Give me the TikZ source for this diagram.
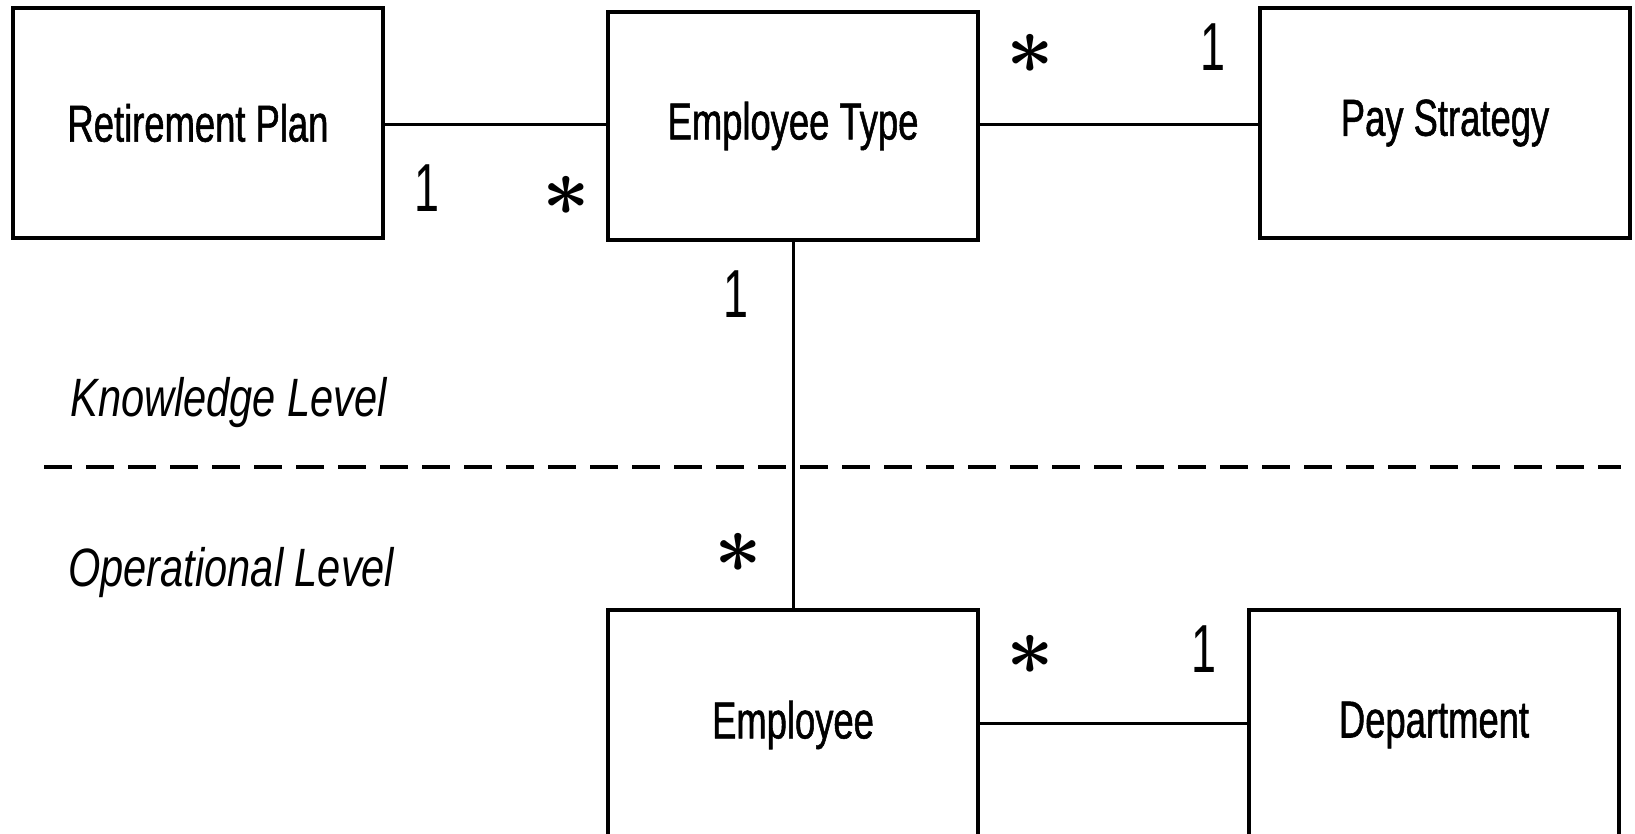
\documentclass[tikz,border=0pt]{standalone}
\usepackage{graphicx}
\usepackage{fontspec}
\newfontfamily\boxfont[FakeStretch=0.70,FakeBold=1]{Liberation Sans}
\newfontfamily\onefont[FakeStretch=0.66]{Liberation Sans}
\newfontfamily\levelfont[FakeStretch=0.77]{Liberation Sans}
\newcommand{\manymark}{\scalebox{2.4}{\fontsize{18}{20}\selectfont\boldmath$\ast$}}
\begin{document}
\begin{tikzpicture}[x=0.5pt,y=-0.5pt,
  cls/.style={draw, line width=2pt, minimum width=185pt, minimum height=115pt,
    inner sep=0pt, font=\boxfont\fontsize{26}{30}\selectfont},
  assoc/.style={line width=1.5pt},
  one/.style={inner sep=0pt, font=\onefont\fontsize{34}{36}\selectfont},
  many/.style={inner sep=0pt},
  level/.style={inner sep=0pt, anchor=west, font=\levelfont\itshape\fontsize{27}{30}\selectfont},
  divider/.style={line width=2pt, dash pattern=on 14pt off 7pt}]
\useasboundingbox (0,0) rectangle (1635,834);

% knowledge level classes
\node[cls] (plan) at (198,123) {Retirement Plan};
\node[cls, minimum height=114pt] (etype) at (793,126) {Employee Type};
\node[cls] (pay) at (1445,123) {Pay Strategy};

% operational level classes
\node[cls] (emp) at (793,725) {Employee};
\node[cls] (dept) at (1434,725) {Department};

% associations
\draw[assoc] (plan.east |- 0,125) -- (etype.west |- 0,125);
\draw[assoc] (etype.east |- 0,125) -- (pay.west |- 0,125);
\draw[assoc] (etype.south) -- (emp.north);
\draw[assoc] (emp.east |- 0,723) -- (dept.west |- 0,723);

% multiplicities
\node[one]  (m1) at (427,188) {1};
\node[many] (m2) at (566,196) {\manymark};
\node[many] (m3) at (1030,54) {\manymark};
\node[one]  (m4) at (1213,47) {1};
\node[one]  (m5) at (736,294) {1};
\node[many] (m6) at (738,553) {\manymark};
\node[many] (m7) at (1030,655) {\manymark};
\node[one]  (m8) at (1204,649) {1};

% level separator
\coordinate (sepL) at (44,467);
\coordinate (sepR) at (1621,467);
\draw[divider] (sepL) -- (sepR);
\node[level] (know) at (70,403) {Knowledge Level};
\node[level] (oper) at (68,573) {Operational Level};
\end{tikzpicture}
\end{document}
